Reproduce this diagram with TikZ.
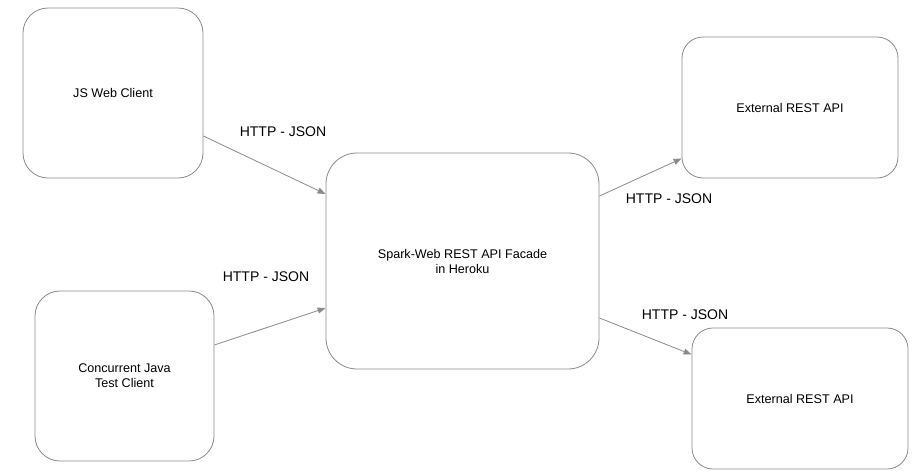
\documentclass[tikz,border=0pt]{standalone}
\usepackage{fontspec}
\setmainfont{Liberation Sans}
\usetikzlibrary{arrows.meta}
\definecolor{linegray}{HTML}{8A8A8A}
\begin{document}
\begin{tikzpicture}[x=1pt,y=-1pt,
  box/.style={draw=linegray, line width=0.8pt, rectangle, inner sep=0pt, align=center,
    font=\fontsize{12.6}{15}\selectfont},
  conn/.style={draw=linegray, line width=0.8pt, -{Triangle[length=8pt,width=6pt]}},
  lbl/.style={font=\fontsize{14}{16}\selectfont, inner sep=0pt}]
\useasboundingbox (0,0) rectangle (921,474);
\node[box, minimum width=180pt, minimum height=170pt, rounded corners=25pt] (js) at (113,93) {JS Web Client};
\node[box, minimum width=179pt, minimum height=170pt, rounded corners=25pt] (java) at (124.5,376) {Concurrent Java\\Test Client};
\node[box, minimum width=273pt, minimum height=216pt, rounded corners=31pt] (spark) at (462.5,261) {Spark-Web REST API Facade\\in Heroku};
\node[box, minimum width=216pt, minimum height=141pt, rounded corners=21pt] (ext1) at (790,107.5) {External REST API};
\node[box, minimum width=216pt, minimum height=141pt, rounded corners=21pt] (ext2) at (800,398.5) {External REST API};
\draw[conn] ([yshift=-43pt]js.east) -- ([yshift=67pt]spark.west);
\draw[conn] ([yshift=31pt]java.east) -- ([yshift=-47pt]spark.west);
\draw[conn] ([yshift=65pt]spark.east) -- ([yshift=-51pt]ext1.west);
\draw[conn] ([yshift=-57pt]spark.east) -- ([yshift=44pt]ext2.west);
\node[lbl] (l1) at (283,132) {HTTP - JSON};
\node[lbl] (l2) at (266,277) {HTTP - JSON};
\node[lbl] (l3) at (669,199) {HTTP - JSON};
\node[lbl] (l4) at (685,315) {HTTP - JSON};
\end{tikzpicture}
\end{document}
